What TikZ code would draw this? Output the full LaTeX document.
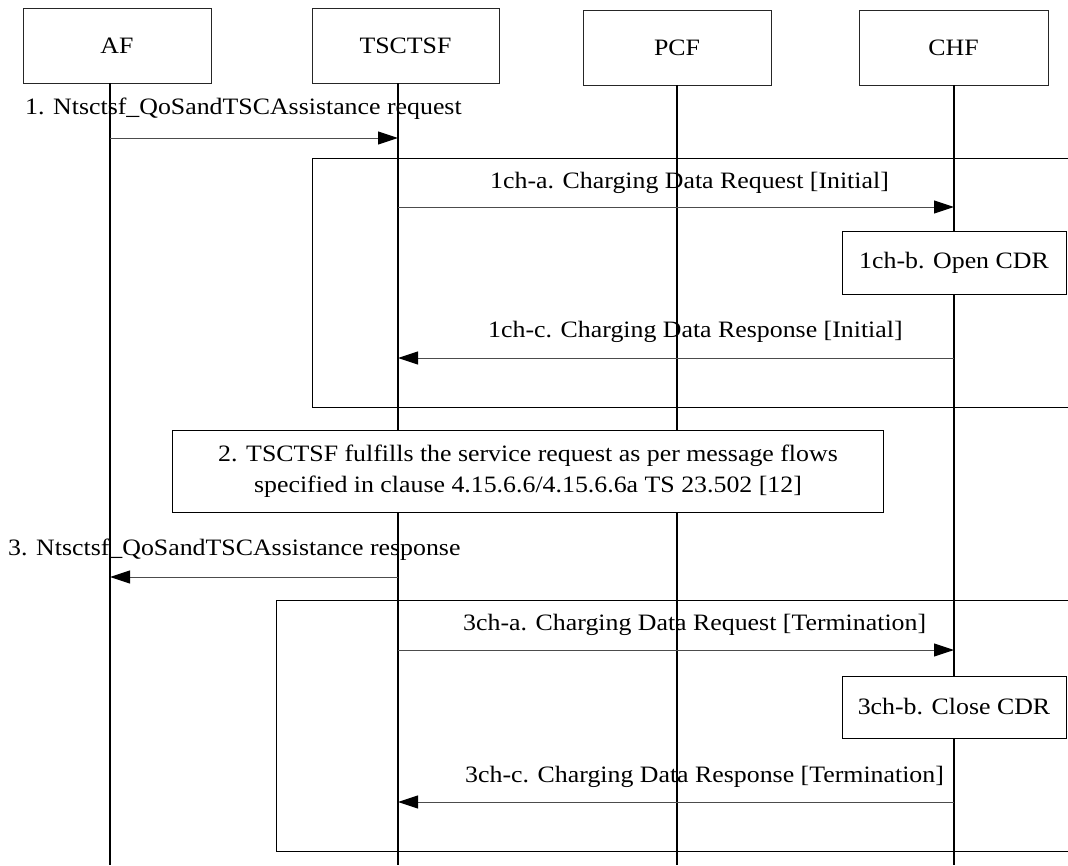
\documentclass[tikz,border=0pt]{standalone}
\usepackage{fontspec}
\setmainfont{Liberation Serif}[FakeStretch=1.1]
\usetikzlibrary{arrows.meta}
\begin{document}
\begin{tikzpicture}[x=1pt,y=-1pt,
  txt/.style={font=\fontsize{23.5}{31}\selectfont, inner sep=0pt},
  hdr/.style={txt, draw=black!85, line width=1pt, minimum height=75pt},
  life/.style={line width=1.8pt, black},
  msg/.style={line width=1pt, black!70, -{Triangle[length=20pt,width=13pt,color=black]}},
  frm/.style={line width=1pt, black},
  note/.style={txt, draw=black, fill=white, line width=1pt, align=center},
]
\useasboundingbox (0,0) rectangle (1068,865);

% headers
\node[hdr, minimum width=188pt] (af)  at (117,45.5)  {AF};
\node[hdr, minimum width=187pt] (tsc) at (405.5,45.5) {TSCTSF};
\node[hdr, minimum width=188pt] (pcf) at (677,47.5)  {PCF};
\node[hdr, minimum width=189pt] (chf) at (953.5,47.5) {CHF};

% lifeline ends
\coordinate (afT)  at (110,83);  \coordinate (afB)  at (110,865);
\coordinate (tscT) at (398,83);  \coordinate (tscB) at (398,865);
\coordinate (pcfT) at (677,85);  \coordinate (pcfB) at (677,865);
\coordinate (chfT) at (954,85);  \coordinate (chfB) at (954,865);
\draw[life] (afT) -- (afB);
\draw[life] (tscT) -- (tscB);
\draw[life] (pcfT) -- (pcfB);
\draw[life] (chfT) -- (chfB);

% message 1
\coordinate (m1a) at (110,138); \coordinate (m1b) at (398,138);
\draw[msg] (m1a) -- (m1b);
\node[txt, anchor=base west] (m1l) at (25,114) {1. Ntsctsf\_QoSandTSCAssistance request};

% frame 1
\draw[frm] (1068,158) -- (312,158) -- (312,407) -- (1068,407);

% 1ch-a
\coordinate (c1a) at (398,207); \coordinate (c1b) at (954,207);
\draw[msg] (c1a) -- (c1b);
\node[txt, anchor=base west] (c1l) at (490,188) {1ch-a. Charging Data Request [Initial]};

% 1ch-b
\node[note, minimum width=224pt, minimum height=63pt] (open) at (954,262.5) {1ch-b. Open CDR};

% 1ch-c
\coordinate (c3a) at (954,358); \coordinate (c3b) at (398,358);
\draw[msg] (c3a) -- (c3b);
\node[txt, anchor=base west] (c3l) at (488,337) {1ch-c. Charging Data Response [Initial]};

% step 2
\node[note, minimum width=711pt, minimum height=82pt] (s2) at (528,471.5)
  {2. TSCTSF fulfills the service request as per message flows\\specified in clause 4.15.6.6/4.15.6.6a TS 23.502 [12]};

% message 3
\coordinate (m3a) at (398,577); \coordinate (m3b) at (110,577);
\draw[msg] (m3a) -- (m3b);
\node[txt, anchor=base west] (m3l) at (8,555) {3. Ntsctsf\_QoSandTSCAssistance response};

% frame 2
\draw[frm] (1068,600) -- (276,600) -- (276,851) -- (1068,851);

% 3ch-a
\coordinate (d1a) at (398,650); \coordinate (d1b) at (954,650);
\draw[msg] (d1a) -- (d1b);
\node[txt, anchor=base west] (d1l) at (463,630) {3ch-a. Charging Data Request [Termination]};

% 3ch-b
\node[note, minimum width=224pt, minimum height=62pt] (close) at (954,707) {3ch-b. Close CDR};

% 3ch-c
\coordinate (d3a) at (954,802); \coordinate (d3b) at (398,802);
\draw[msg] (d3a) -- (d3b);
\node[txt, anchor=base west] (d3l) at (465,782) {3ch-c. Charging Data Response [Termination]};
\end{tikzpicture}
\end{document}
